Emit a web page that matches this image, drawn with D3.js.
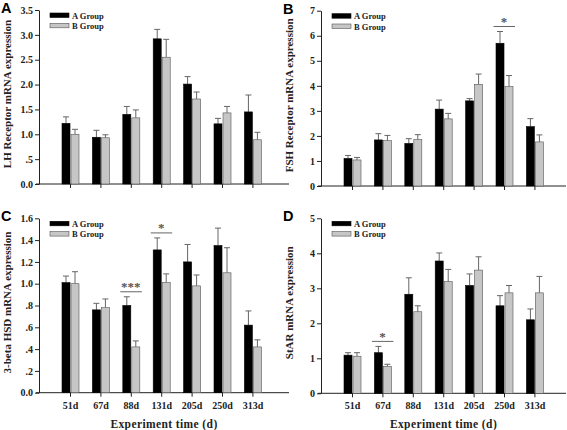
<!DOCTYPE html>
<html><head><meta charset="utf-8">
<script src="https://cdn.jsdelivr.net/npm/d3@7"></script>
<style>
body{margin:0;background:#fff;}
svg{display:block;}
.tick text{font-family:"Liberation Serif","Times New Roman",serif;font-weight:bold;fill:#222;}
</style>
</head><body>
<svg id="chart" width="567" height="430"></svg>
<script>
const categories = ["51d","67d","88d","131d","205d","250d","313d"];
const seriesNames = ["A Group","B Group"];

const lhA = [1.22,0.94,1.40,2.92,2.01,1.21,1.45];
const lhAErr = [0.13,0.14,0.16,0.19,0.15,0.11,0.34];
const lhB = [1.00,0.93,1.33,2.55,1.71,1.43,0.89];
const lhBErr = [0.10,0.06,0.16,0.36,0.14,0.13,0.15];

const fshA = [1.10,1.84,1.70,3.07,3.40,5.70,2.37];
const fshAErr = [0.12,0.25,0.19,0.36,0.09,0.47,0.32];
const fshB = [1.04,1.81,1.85,2.68,4.06,3.97,1.76];
const fshBErr = [0.10,0.21,0.20,0.22,0.41,0.44,0.28];

const hsdA = [1.01,0.76,0.80,1.31,1.20,1.35,0.62];
const hsdAErr = [0.06,0.06,0.08,0.11,0.16,0.16,0.13];
const hsdB = [1.00,0.78,0.42,1.01,0.98,1.10,0.42];
const hsdBErr = [0.11,0.08,0.055,0.08,0.10,0.23,0.065];

const starA = [1.09,1.16,2.83,3.78,3.08,2.50,2.10];
const starAErr = [0.07,0.18,0.47,0.23,0.33,0.29,0.31];
const starB = [1.06,0.77,2.33,3.19,3.52,2.87,2.87];
const starBErr = [0.10,0.06,0.17,0.35,0.38,0.21,0.47];

const lhTicks = [0,0.5,1.0,1.5,2.0,2.5,3.0,3.5];
const lhTickLabels = ["0.0",".5","1.0","1.5","2.0","2.5","3.0","3.5"];
const fshTicks = [0,1,2,3,4,5,6,7];
const fshTickLabels = ["0","1","2","3","4","5","6","7"];
const hsdTicks = [0,0.2,0.4,0.6,0.8,1.0,1.2,1.4,1.6];
const hsdTickLabels = ["0.0",".2",".4",".6",".8","1.0","1.2","1.4","1.6"];
const starTicks = [0,1,2,3,4,5];
const starTickLabels = ["0","1","2","3","4","5"];

// significance marks: [category index, label]
const sigB = [[5,"*"]];
const sigC = [[2,"***"],[3,"*"]];
const sigD = [[1,"*"]];

const xTitle = "Experiment time (d)";

const svg = d3.select("#chart");
const serif = "'Liberation Serif','Times New Roman',serif";
const sans = "'Liberation Sans',Arial,sans-serif";

function panel(o){
  const g = svg.append("g");
  const step = 30.4;
  const x = d3.scaleLinear().domain([-1.02, (o.right - o.left)/step - 1.02]).range([o.left, o.right]);
  const y = d3.scaleLinear().domain([0, o.ymax]).range([o.bottom, o.top]);
  const bw = 8;

  const ya = g.append("g").attr("transform",`translate(${o.left},0)`)
    .call(d3.axisLeft(y).tickValues(o.ticks).tickFormat((d,i)=>o.tickLabels[i]).tickSize(4).tickSizeOuter(0).tickPadding(2));
  ya.selectAll("text").style("font-size","10px");
  ya.select(".domain").attr("stroke","#222");
  ya.selectAll("line").attr("stroke","#222");

  const xa = g.append("g").attr("transform",`translate(0,${o.bottom})`)
    .call(d3.axisBottom(x).tickValues(d3.range(categories.length)).tickFormat(i=> o.showX ? categories[i] : "").tickSize(4).tickSizeOuter(0).tickPadding(5));
  xa.select(".domain").attr("stroke","#222").attr("d",`M${o.left-3},0H${o.right}`);
  xa.selectAll("line").attr("stroke","#222");
  xa.selectAll("text").style("font-size","10px");

  const groups = [
    {vals:o.a, errs:o.aErr, off:-bw, fill:"#000", stroke:"#000"},
    {vals:o.b, errs:o.bErr, off:1, fill:"#c6c6c6", stroke:"#555"}
  ];
  groups.forEach(s=>{
    const gg = g.append("g");
    gg.selectAll("line.err").data(s.vals).join("line").attr("class","err")
      .attr("x1",(d,i)=>x(i)+s.off+bw/2).attr("x2",(d,i)=>x(i)+s.off+bw/2)
      .attr("y1",d=>y(d)).attr("y2",(d,i)=>y(d+s.errs[i]))
      .attr("stroke","#666").attr("stroke-width",1);
    gg.selectAll("line.cap").data(s.vals).join("line").attr("class","cap")
      .attr("x1",(d,i)=>x(i)+s.off+bw/2-3).attr("x2",(d,i)=>x(i)+s.off+bw/2+3)
      .attr("y1",(d,i)=>y(d+s.errs[i])).attr("y2",(d,i)=>y(d+s.errs[i]))
      .attr("stroke","#666").attr("stroke-width",1);
    gg.selectAll("rect").data(s.vals).join("rect")
      .attr("x",(d,i)=>x(i)+s.off).attr("width",bw)
      .attr("y",d=>y(d)).attr("height",d=>o.bottom-y(d))
      .attr("fill",s.fill).attr("stroke",s.stroke).attr("stroke-width",0.6);
  });

  (o.sig||[]).forEach(([i,lab])=>{
    const top = Math.max(o.a[i]+o.aErr[i], o.b[i]+o.bErr[i]);
    const ly = y(top) - 5;
    g.append("line").attr("x1",x(i)-10.5).attr("x2",x(i)+11).attr("y1",ly).attr("y2",ly)
      .attr("stroke","#666").attr("stroke-width",1);
    g.append("text").attr("x",x(i)).attr("y",ly-0.5).attr("text-anchor","middle")
      .style("font-family",serif).style("font-weight","bold").style("font-size","13px").attr("fill","#555")
      .text(lab);
  });

  seriesNames.forEach((n,k)=>{
    const ly = o.top + 3 + k*10.3;
    g.append("rect").attr("x",o.left+11).attr("y",ly).attr("width",19).attr("height",4.5)
      .attr("fill",k?"#c6c6c6":"#000").attr("stroke",k?"#555":"#000").attr("stroke-width",0.6);
    g.append("text").attr("x",o.left+33).attr("y",ly+5.5).style("font-family",serif).style("font-weight","bold")
      .style("font-size","8.5px").attr("fill","#222").text(n);
  });

  g.append("text").attr("transform",`translate(${o.left-28},${(o.top+o.bottom)/2 - 3}) rotate(-90)`)
    .attr("text-anchor","middle").style("font-family",serif).style("font-weight","bold").style("font-size","11px")
    .attr("fill","#222").text(o.yTitle);

  g.append("text").attr("x",o.left-38).attr("y",o.top+3).style("font-family",sans).style("font-weight","bold")
    .style("font-size","14.5px").attr("fill","#000").text(o.letter);

  if(o.showX){
    g.append("text").attr("x",(o.left+o.right)/2).attr("y",427.5).attr("text-anchor","middle")
      .style("font-family",serif).style("font-weight","bold").style("font-size","11.5px").attr("fill","#222")
      .style("letter-spacing","0.4px").text(xTitle);
  }
}

panel({letter:"A",left:39,right:289,top:10,bottom:184,ymax:3.5,ticks:lhTicks,tickLabels:lhTickLabels,
  a:lhA,aErr:lhAErr,b:lhB,bErr:lhBErr,yTitle:"LH Receptor mRNA expression",showX:false});
panel({letter:"B",left:321,right:566,top:10.7,bottom:186,ymax:7,ticks:fshTicks,tickLabels:fshTickLabels,
  a:fshA,aErr:fshAErr,b:fshB,bErr:fshBErr,yTitle:"FSH Receptor mRNA expression",showX:false,sig:sigB});
panel({letter:"C",left:39,right:289,top:218.3,bottom:392.7,ymax:1.6,ticks:hsdTicks,tickLabels:hsdTickLabels,
  a:hsdA,aErr:hsdAErr,b:hsdB,bErr:hsdBErr,yTitle:"3-beta HSD mRNA expression",showX:true,sig:sigC});
panel({letter:"D",left:321,right:566,top:218.3,bottom:393.3,ymax:5,ticks:starTicks,tickLabels:starTickLabels,
  a:starA,aErr:starAErr,b:starB,bErr:starBErr,yTitle:"StAR mRNA expression",showX:true,sig:sigD});
</script>
</body></html>
